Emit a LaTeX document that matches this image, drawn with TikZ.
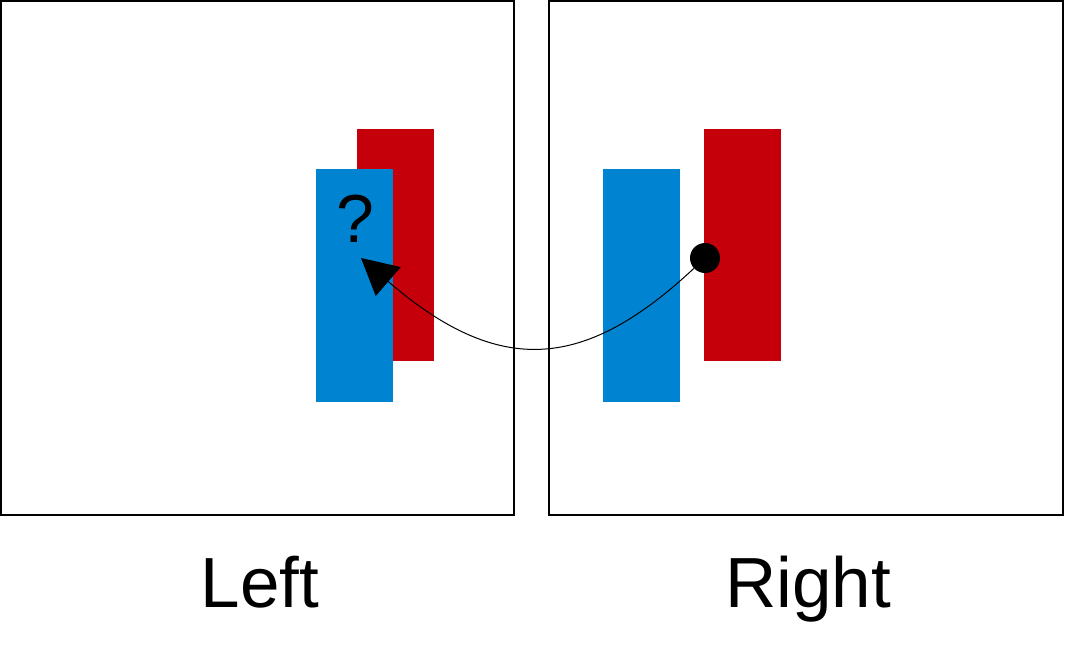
\documentclass[tikz,border=0pt]{standalone}
\usepackage{fontspec}
\setmainfont{Liberation Sans}
\usetikzlibrary{arrows.meta}
\definecolor{lblue}{RGB}{0,132,209}
\definecolor{lred}{RGB}{197,0,11}
\begin{document}
\begin{tikzpicture}[x=1pt,y=-1pt,
  frame/.style={draw=black,line width=1.5pt},
  redbar/.style={fill=lred},
  bluebar/.style={fill=lblue},
  caption/.style={anchor=base,inner sep=0pt,font=\fontsize{71}{84}\selectfont},
  dotnode/.style={circle,fill=black,minimum size=30pt,inner sep=0pt},
  link/.style={line width=1pt,-{Triangle[length=36pt,width=38pt]}}]
\useasboundingbox (0,0) rectangle (1067,649);
% frames
\draw[frame] (0.75,0.75) rectangle (514,515);
\draw[frame] (549,0.75) rectangle (1063,515);
% left bars
\fill[redbar] (357,129) rectangle (434,361);
\fill[bluebar] (316,169) rectangle (393,402);
% right bars
\fill[bluebar] (603,169) rectangle (680,402);
\fill[redbar] (704,129) rectangle (781,361);
% question mark
\node[caption,font=\fontsize{68}{80}\selectfont] (q) at (355,242) {?};
% dot and connector
\node[dotnode] (dot) at (705,258) {};
\coordinate (tgt) at (361,258);
\draw[link] (dot) .. controls (585,370) and (500,378) .. (tgt);
% captions
\node[caption] (left) at (260,607) {Left};
\node[caption] (right) at (808,607) {Right};
\end{tikzpicture}
\end{document}
